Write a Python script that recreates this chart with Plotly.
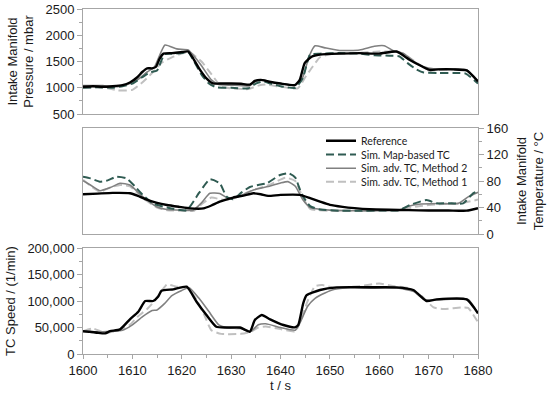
import plotly.graph_objects as go

# ---------------- Data ----------------
# Intake manifold pressure (mbar)
p_ref_t = [1600,1602,1604,1606,1608,1609.5,1611,1612,1613,1614,1614.8,1615.5,1616.3,1618,1620,1621.3,1622.3,1623.7,1625,1626.3,1628,1630,1632,1633.8,1634.8,1636,1637.5,1640,1642.9,1643.9,1644.9,1646.3,1648,1652,1656,1660,1663.5,1666.2,1668.8,1670.2,1672,1675,1677.7,1680]
p_ref_v = [1020,1030,1020,1030,1050,1100,1200,1300,1370,1370,1400,1550,1650,1660,1680,1690,1560,1340,1180,1085,1080,1080,1075,1060,1130,1150,1120,1080,1050,1150,1470,1590,1630,1650,1660,1650,1690,1530,1400,1340,1350,1350,1330,1120]

p_map_t = [1600,1603,1606,1608,1610,1612,1613.5,1615,1616.5,1618,1620,1621.3,1622.5,1624,1625.5,1627,1630,1633.5,1635,1636.5,1638,1640,1643,1644.5,1646,1648,1652,1656,1659,1662,1664,1666,1667.5,1669,1672,1675,1677.5,1680]
p_map_v = [1000,1010,1000,1030,1080,1200,1290,1330,1640,1650,1660,1680,1500,1250,1080,1010,1000,990,1080,1120,1080,1030,1000,1180,1630,1650,1660,1650,1620,1610,1600,1450,1350,1290,1280,1280,1270,1080]

p_m2_t = [1600,1604,1607,1609,1611,1613,1614.5,1616.6,1619,1621.3,1622.5,1624,1626,1627.5,1630,1633.8,1635,1636.5,1638,1640,1643,1644.5,1645.8,1647,1649,1652,1656,1659,1661,1663,1665,1667,1669,1671,1675,1677.7,1680]
p_m2_v = [1040,1040,1020,1060,1150,1300,1400,1815,1740,1720,1600,1420,1150,1060,1050,1040,1120,1150,1110,1080,1050,1200,1600,1800,1760,1710,1720,1790,1800,1700,1650,1500,1400,1360,1360,1340,1130]

p_m1_t = [1600,1603,1605,1607,1610,1612,1614,1616,1618,1620,1621.5,1622.5,1624,1626,1628,1630,1633.5,1635.5,1637,1640,1643.5,1645,1646.5,1648,1650,1655,1660,1664,1666,1668,1670,1672,1675,1677.7,1680]
p_m1_v = [1000,1010,990,950,960,1100,1280,1480,1580,1650,1680,1620,1500,1260,1020,990,975,1040,1060,1020,990,1200,1400,1580,1640,1660,1690,1680,1580,1450,1330,1340,1350,1340,1120]

# Intake manifold temperature (deg C)
t_ref_t = [1600,1603,1606,1609.5,1611,1612.9,1615,1617,1619.5,1621.7,1624.4,1626,1627.7,1630.4,1632.5,1634.5,1636,1637.5,1640,1643.9,1646,1648,1650,1652.6,1655,1658,1662,1666,1670,1674,1677.7,1680]
t_ref_v = [60,61,62,61.5,58,52,47,43.8,41,38.7,38.7,43,48.8,55,58,61.4,60,57.5,59,59,54,48.8,44,41,39,37.3,36.5,36,35.5,35.5,35.2,39]

t_map_t = [1600,1601.5,1603.4,1605,1606.8,1608.8,1610.5,1612.1,1614.2,1617,1621,1623.5,1625.7,1627.7,1629.1,1630.4,1632,1633.8,1635.5,1637.2,1639.9,1641.7,1643,1644.3,1646,1648,1652,1656,1660,1664,1666.2,1669.6,1671.6,1674,1677,1679,1680]
t_map_v = [86.5,84,79,81,86.5,84,72,59,46,40,36,62,82.5,76.5,56.3,52.4,62,71,74,76.5,89,91.6,85,60,42,37,35,35,35.5,36,43.8,51.3,46.3,46.5,46.3,61.4,65]

t_m2_t = [1600,1601.5,1603.4,1605.5,1607.5,1609.5,1612.1,1614.9,1617,1620,1622.3,1624,1625.7,1627.7,1629.4,1631,1634.5,1637.9,1640,1641.5,1643,1644.5,1646,1650,1655,1660,1664,1666,1668,1672,1676,1678,1680]
t_m2_v = [80.5,74,65.4,70,76.5,74,56.3,41.2,37,36,36,47,61.4,61,53.8,55,66.4,72.4,77,79,72,52,40,36,35,35,36,42,45,46,46,56,63]

t_m1_t = [1600,1601.5,1603.4,1605.5,1607.5,1609.5,1612,1615,1617,1620,1622.5,1624,1626,1628,1629.5,1631,1634,1638,1641,1643,1644.5,1646,1650,1655,1660,1664,1668,1672,1677,1680]
t_m1_v = [82,73,64,70,74,72,55,40,36,35,35,45,55,52,52,55,65,75,85,80,55,38,35,35,35,36,42,45,47,52]

# Turbocharger speed (1/min)
n_ref_t = [1600,1601.4,1603,1604.5,1605.5,1607.5,1609.5,1611.2,1612.6,1614.2,1615.2,1615.9,1618.3,1621,1623,1625,1627,1629,1631.8,1633.8,1634.8,1636.2,1637.9,1640.6,1642.9,1643.6,1644.6,1645.3,1648,1651.4,1658.1,1663.5,1666.9,1669.6,1671.6,1677.7,1680]
n_ref_v = [43000,42000,40000,39000,43000,46500,65500,79800,100000,100000,108000,119500,122000,127000,98700,73600,51500,50000,50000,42000,64000,73600,65500,54700,50300,54700,95700,111000,120800,125800,126000,125800,120800,100000,103000,103000,76800]

n_m2_t = [1600,1604,1606,1608,1610,1612,1614,1615,1616.5,1618,1620,1621.5,1623.5,1625.5,1627.5,1629,1632,1634,1635.5,1637,1640,1643,1644,1645.5,1647,1649,1651,1655,1660,1664,1667,1669,1672,1678,1680]
n_m2_v = [43000,42000,43000,45000,55000,70000,82000,83000,95000,110000,120000,125000,105000,80000,55000,50000,48000,43000,55000,57000,50000,45000,60000,90000,105000,115000,122000,125000,124000,124000,118000,103000,102000,103000,76000]

n_m1_t = [1600,1602,1604.5,1607,1609.5,1611,1613,1614.5,1616,1617,1619,1621,1622.5,1624.5,1626,1628,1632,1634,1635.5,1637,1640,1643,1645.5,1647,1648.5,1651,1656,1660,1663,1666,1668.5,1671,1673,1677,1678,1680]
n_m1_v = [43000,48000,40000,44000,55000,70000,85000,100000,120000,131000,127000,126000,110000,75000,45000,38000,38000,42000,50000,52000,47000,43000,100000,128000,130000,125000,128000,133000,128000,124000,110000,88000,85000,88000,87000,60000]

names = ["Reference", "Sim. Map-based TC", "Sim. adv. TC, Method 2", "Sim. adv. TC, Method 1"]

# ---------------- Styles ----------------
C_REF, C_MAP, C_M2, C_M1 = "#000000", "#2F5B52", "#808080", "#C0C0C0"
FRAME = "#A6A6A6"
FONT = "Liberation Sans, Arial, sans-serif"

def line(x, y, xa, ya, color, width, dash="solid", name=None, legend=None):
    return go.Scatter(x=x, y=y, xaxis=xa, yaxis=ya, mode="lines",
                      line=dict(color=color, width=width, dash=dash, shape="spline", smoothing=0.5),
                      name=name, showlegend=legend is not None,
                      legend=legend if legend else "legend", hoverinfo="skip")

DASH = "8px,4px"
fig = go.Figure()
# top panel
fig.add_trace(line(p_m1_t, p_m1_v, "x", "y", C_M1, 2, DASH))
fig.add_trace(line(p_m2_t, p_m2_v, "x", "y", C_M2, 1.6))
fig.add_trace(line(p_map_t, p_map_v, "x", "y", C_MAP, 2, DASH))
fig.add_trace(line(p_ref_t, p_ref_v, "x", "y", C_REF, 2.4))
# middle panel (carries the legend)
fig.add_trace(line(t_m1_t, t_m1_v, "x2", "y2", C_M1, 2, DASH, names[3], "legend4"))
fig.add_trace(line(t_m2_t, t_m2_v, "x2", "y2", C_M2, 1.6, "solid", names[2], "legend3"))
fig.add_trace(line(t_map_t, t_map_v, "x2", "y2", C_MAP, 2, DASH, names[1], "legend2"))
fig.add_trace(line(t_ref_t, t_ref_v, "x2", "y2", C_REF, 2.4, "solid", names[0], "legend"))
# bottom panel
fig.add_trace(line(n_m1_t, n_m1_v, "x3", "y3", C_M1, 2, DASH))
fig.add_trace(line(n_m2_t, n_m2_v, "x3", "y3", C_M2, 1.6))
fig.add_trace(line(n_ref_t, n_ref_v, "x3", "y3", C_REF, 2.4))

W, H = 550, 393
L, R, T, B = 83, 550 - 478, 9, 393 - 354
PH = H - T - B
def fy(p):
    return (354 - p) / PH

frame = dict(showline=True, linecolor=FRAME, linewidth=1, mirror=True,
             showgrid=False, zeroline=False, automargin=False)
xbase = dict(range=[1600, 1680], **frame)
tickfont = dict(family=FONT, size=13, color="#1a1a1a")
ytick = dict(ticks="outside", ticklen=5, tickcolor=FRAME, tickfont=tickfont)
tfont = dict(family=FONT, size=13, color="#1a1a1a")

fig.update_layout(
    width=W, height=H,
    margin=dict(l=L, r=R, t=T, b=B),
    paper_bgcolor="white", plot_bgcolor="white",
    font=dict(family=FONT, size=13, color="#1a1a1a"),
    xaxis=dict(domain=[0, 1], anchor="y", showticklabels=False, **xbase),
    xaxis2=dict(domain=[0, 1], anchor="y2", showticklabels=False, **xbase),
    xaxis3=dict(domain=[0, 1], anchor="y3", dtick=10, ticks="outside", ticklen=4,
                tickcolor=FRAME, tickfont=tickfont,
                minor=dict(dtick=5, ticks="outside", ticklen=3, tickcolor=FRAME),
                title=dict(text="t / s", font=tfont, standoff=2), **xbase),
    yaxis=dict(domain=[fy(114), fy(9)], anchor="x", range=[500, 2500], dtick=500,
               minor=dict(dtick=250, ticks="outside", ticklen=3, tickcolor=FRAME),
               title=dict(text="Intake Manifold<br>Pressure / mbar", font=tfont, standoff=8),
               **ytick, **frame),
    yaxis2=dict(domain=[fy(234), fy(128)], anchor="x2", side="right", range=[0, 160], dtick=40,
                minor=dict(dtick=20, ticks="outside", ticklen=3, tickcolor=FRAME),
                title=dict(text="Intake Manifold<br>Temperature / °C", font=tfont, standoff=9),
                **ytick, **frame),
    yaxis3=dict(domain=[fy(354), fy(248)], anchor="x3", range=[0, 200000], dtick=50000,
                tickformat=",d",
                minor=dict(dtick=25000, ticks="outside", ticklen=3, tickcolor=FRAME),
                title=dict(text="TC Speed / (1/min)", font=tfont, standoff=8),
                **ytick, **frame),
)

LX = (321 - 83) / 395
legfont = dict(family="Lato, sans-serif", size=10.5, color="#1a1a1a")
rows = [140.7, 154.5, 168.2, 181.8]
for key, ypix in zip(["legend", "legend2", "legend3", "legend4"], rows):
    fig.update_layout({key: dict(x=LX, y=fy(ypix), xanchor="left", yanchor="middle",
                                 bgcolor="rgba(0,0,0,0)", borderwidth=0, font=legfont,
                                 itemwidth=30)})

# remove the browser's default 8px page margin so the figure fills the window
fig.write_html("out.html", config={"displayModeBar": False},
               post_script="document.body.style.margin='0';document.body.style.overflow='hidden';")
